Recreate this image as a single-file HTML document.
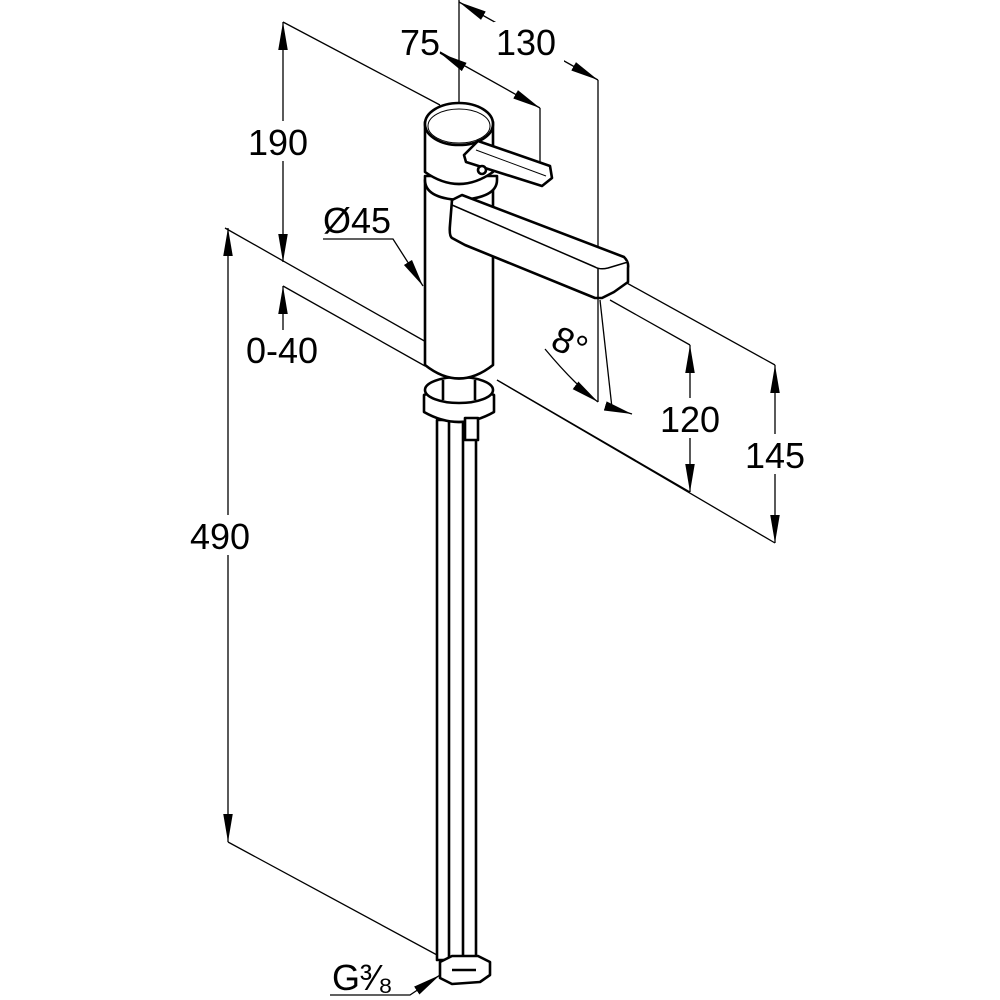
<!DOCTYPE html>
<html><head><style>
html,body{margin:0;padding:0;background:#fff;}
svg{display:block;}
text{font-family:"Liberation Sans",sans-serif;font-size:36px;fill:#000;}
</style></head><body>
<svg width="1000" height="1000" viewBox="0 0 1000 1000" xmlns="http://www.w3.org/2000/svg">
<defs>
<marker id="b" viewBox="0 0 10 10" refX="10" refY="5" markerWidth="28" markerHeight="28" markerUnits="userSpaceOnUse" orient="auto-start-reverse"><path d="M0,3.3 L10,5 L0,6.7 z" fill="#000"/></marker>
</defs>
<g stroke="#000" stroke-width="1.3" fill="none">
<line x1="283" y1="22" x2="440" y2="105"/>
<line x1="225" y1="228" x2="435" y2="347"/>
<line x1="497" y1="380" x2="775" y2="543"/>
<line x1="283" y1="286" x2="425" y2="366"/>
<line x1="497" y1="380" x2="690" y2="492"/>
<line x1="228" y1="842" x2="450" y2="962"/>
<line x1="610" y1="300" x2="690" y2="345"/>
<line x1="625" y1="282" x2="775" y2="365"/>
<line x1="459" y1="0" x2="459" y2="125"/>
<line x1="540" y1="108" x2="540" y2="175"/>
<line x1="598" y1="80" x2="598" y2="402"/>
<line x1="600" y1="300" x2="612" y2="408"/>
<line x1="283" y1="22" x2="283" y2="262" marker-end="url(#b)" marker-start="url(#b)"/>
<line x1="283" y1="330" x2="283" y2="286" marker-end="url(#b)"/>
<line x1="228" y1="228" x2="228" y2="842" marker-end="url(#b)" marker-start="url(#b)"/>
<line x1="459" y1="2" x2="598" y2="80" marker-end="url(#b)" marker-start="url(#b)"/>
<line x1="440" y1="52" x2="540" y2="108" marker-end="url(#b)"/>
<line x1="459" y1="64" x2="440" y2="53" marker-end="url(#b)"/>
<line x1="690" y1="345" x2="690" y2="492" marker-end="url(#b)" marker-start="url(#b)"/>
<line x1="775" y1="365" x2="775" y2="543" marker-end="url(#b)" marker-start="url(#b)"/>
<path d="M545,349 Q575,385 598,402" marker-end="url(#b)"/>
<line x1="612" y1="408" x2="632" y2="414" marker-end="url(#b)"/>
<polyline points="323,239 393,239 423,286" marker-end="url(#b)"/>
<polyline points="330,995 410,995 440,975" marker-end="url(#b)"/>
</g>
<g fill="#fff">
<rect x="244" y="121" width="78" height="40"/>
<rect x="188" y="515" width="82" height="40"/>
<rect x="658" y="398" width="66" height="40"/>
<rect x="743" y="434" width="66" height="40"/>
<rect x="494" y="22" width="70" height="40"/>
</g>
<g stroke="#000" stroke-width="2.6" fill="#fff" stroke-linejoin="round">
<rect x="437" y="420" width="12" height="540"/>
<rect x="463" y="420" width="13" height="540"/>
<path d="M440,962 L452,956 L478,956 L490,962 L490,975 L480,982 L452,984 L440,978 z"/>
<line x1="452" y1="970" x2="476" y2="970"/>
<path d="M424,395 L424,412 Q459,432 494,412 L494,395 Q459,380 424,395 z"/>
<ellipse cx="459" cy="390" rx="34" ry="13"/>
<line x1="443" y1="380" x2="443" y2="400"/>
<line x1="475" y1="380" x2="475" y2="400"/>
<path d="M465,418 L478,418 L478,440 L465,440 z"/>
<path d="M425,180 L425,365 Q459,392 493,365 L493,180 z"/>
<path d="M425,180 Q425,198 459,200 Q497,198 497,180 L497,176 L425,176 z"/>
<path d="M425,122 L425,172 Q459,196 493,172 L493,122 z"/>
<ellipse cx="459" cy="124" rx="34" ry="21"/>
<ellipse cx="459" cy="126" rx="31" ry="17" stroke-width="1"/>
<path d="M464,155 L478,141 L550,166 L552,178 L542,186 L466,162 z"/>
<line x1="476" y1="150" x2="546" y2="176" stroke-width="1"/>
<circle cx="482" cy="170" r="4"/>
<path d="M452,200 L462,195 L624,257 Q629,262 628,268 L628,282 L614,292 L602,298 L595,298 L465,245 L452,238 Q449,236 450,225 z"/>
<path d="M452,205 L595,267 Q600,270 608,268 L628,262" stroke-width="1.5"/>
<line x1="598" y1="268" x2="598" y2="298" stroke-width="1.5"/>
</g>
<text x="248" y="155">190</text>
<text x="400" y="55">75</text>
<text x="496" y="55">130</text>
<text x="323" y="233">Ø45</text>
<text x="246" y="363">0-40</text>
<text x="190" y="549">490</text>
<text x="660" y="432">120</text>
<text x="745" y="468">145</text>
<text x="552" y="356" transform="rotate(25 570 345)">8°</text>
<text x="332" y="990">G³⁄₈</text>
</svg>
</body></html>
